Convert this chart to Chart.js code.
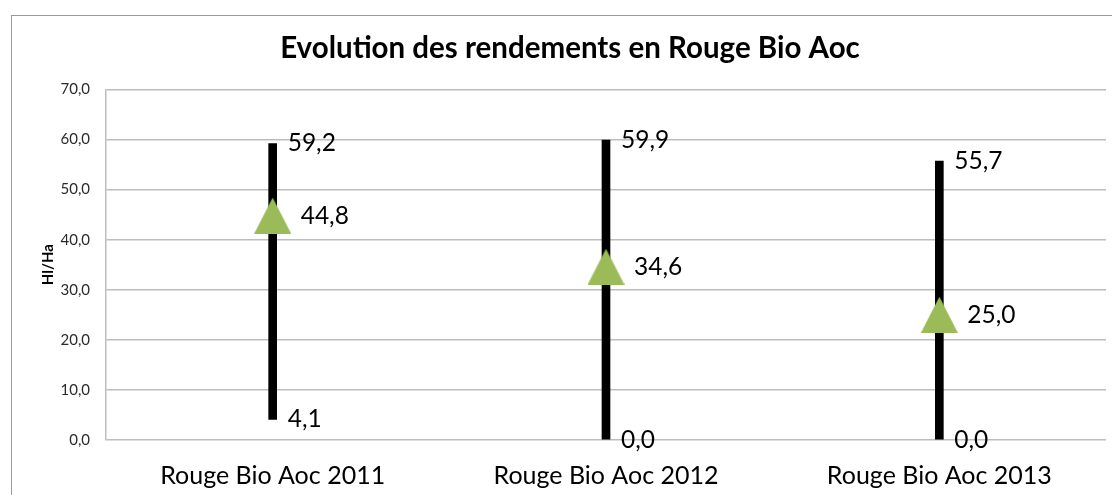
<!DOCTYPE html>
<html>
<head>
<meta charset="utf-8">
<script src="https://cdn.jsdelivr.net/npm/chart.js@4/dist/chart.umd.min.js"></script>
<style>
  html, body { margin: 0; padding: 0; background: #fff; overflow: hidden; }
  #frame { position: absolute; left: 11px; top: 15px; width: 1200px; height: 600px; border: 1px solid #9a9a9a; box-sizing: border-box; }
  #c { position: absolute; left: 0; top: 0; }
</style>
</head>
<body>
<div id="frame"></div>
<canvas id="c" width="1112" height="495"></canvas>
<script>
const categories = ['Rouge Bio Aoc 2011', 'Rouge Bio Aoc 2012', 'Rouge Bio Aoc 2013'];
const minValues = [4.1, 0.0, 0.0];
const maxValues = [59.2, 59.9, 55.7];
const meanValues = [44.8, 34.6, 25.0];
const yTickValues = [0, 10, 20, 30, 40, 50, 60, 70];

const FONT = 'Lato, "Open Sans", sans-serif';
const fmt = v => v.toFixed(1).replace('.', ',');

// triangle marker image
const tri = document.createElement('canvas');
tri.width = 37; tri.height = 36;
(function () {
  const t = tri.getContext('2d');
  t.fillStyle = '#9BBB59';
  t.beginPath();
  t.moveTo(18.5, 0);
  t.lineTo(37, 36);
  t.lineTo(0, 36);
  t.closePath();
  t.fill();
})();

const labelPlugin = {
  id: 'valueLabels',
  afterDatasetsDraw(chart) {
    const ctx = chart.ctx;
    const xs = chart.scales.x, ys = chart.scales.y;
    ctx.save();
    ctx.font = '24.5px ' + FONT;
    ctx.fillStyle = '#000';
    ctx.textAlign = 'left';
    ctx.textBaseline = 'middle';
    categories.forEach((c, i) => {
      const x = xs.getPixelForValue(i);
      ctx.fillText(fmt(maxValues[i]), x + 15, ys.getPixelForValue(maxValues[i]));
      ctx.fillText(fmt(minValues[i]), x + 15, ys.getPixelForValue(minValues[i]));
      ctx.fillText(fmt(meanValues[i]), x + 28, ys.getPixelForValue(meanValues[i]));
    });
    ctx.restore();
  }
};

new Chart(document.getElementById('c'), {
  type: 'bar',
  data: {
    labels: categories,
    datasets: [
      {
        type: 'bar',
        label: 'Plage',
        data: minValues.map((m, i) => [m, maxValues[i]]),
        backgroundColor: '#000',
        barThickness: 8,
        order: 2
      },
      {
        type: 'line',
        label: 'Moyenne',
        data: meanValues,
        showLine: false,
        pointStyle: tri,
        pointRadius: 18,
        borderColor: '#9BBB59',
        backgroundColor: '#9BBB59',
        order: 1
      }
    ]
  },
  options: {
    responsive: false,
    animation: false,
    layout: { autoPadding: false, padding: { left: 34, right: 6, top: 0, bottom: 0 } },
    plugins: {
      legend: { display: false },
      tooltip: { enabled: false },
      title: {
        display: true,
        text: 'Evolution des rendements en Rouge Bio Aoc',
        color: '#000',
        font: { family: FONT, size: 29.5, weight: 'bold' },
        padding: { top: 31, bottom: 23 }
      }
    },
    scales: {
      x: {
        grid: { display: false, drawTicks: false },
        border: { display: false },
        ticks: { color: '#000', font: { family: FONT, size: 25 }, padding: 21, maxRotation: 0 },
        afterFit(s) { s.height = 55; s.paddingLeft = 0; s.paddingRight = 0; }
      },
      y: {
        min: 0, max: 70,
        afterBuildTicks(s) { s.ticks = yTickValues.map(v => ({ value: v })); },
        grid: { color: '#bdbdbd', lineWidth: 1.5, drawTicks: false },
        border: { display: true, color: '#bdbdbd', width: 1.5 },
        ticks: { color: '#2b2b2b', font: { family: FONT, size: 15 }, padding: 16, callback: v => fmt(v) },
        title: { display: true, text: 'Hl/Ha', color: '#000', font: { family: FONT, size: 15, weight: 'bold' }, padding: { top: 5, bottom: 0 } },
        afterFit(s) { s.width = 72; }
      }
    }
  },
  plugins: [labelPlugin]
});
</script>
</body>
</html>
